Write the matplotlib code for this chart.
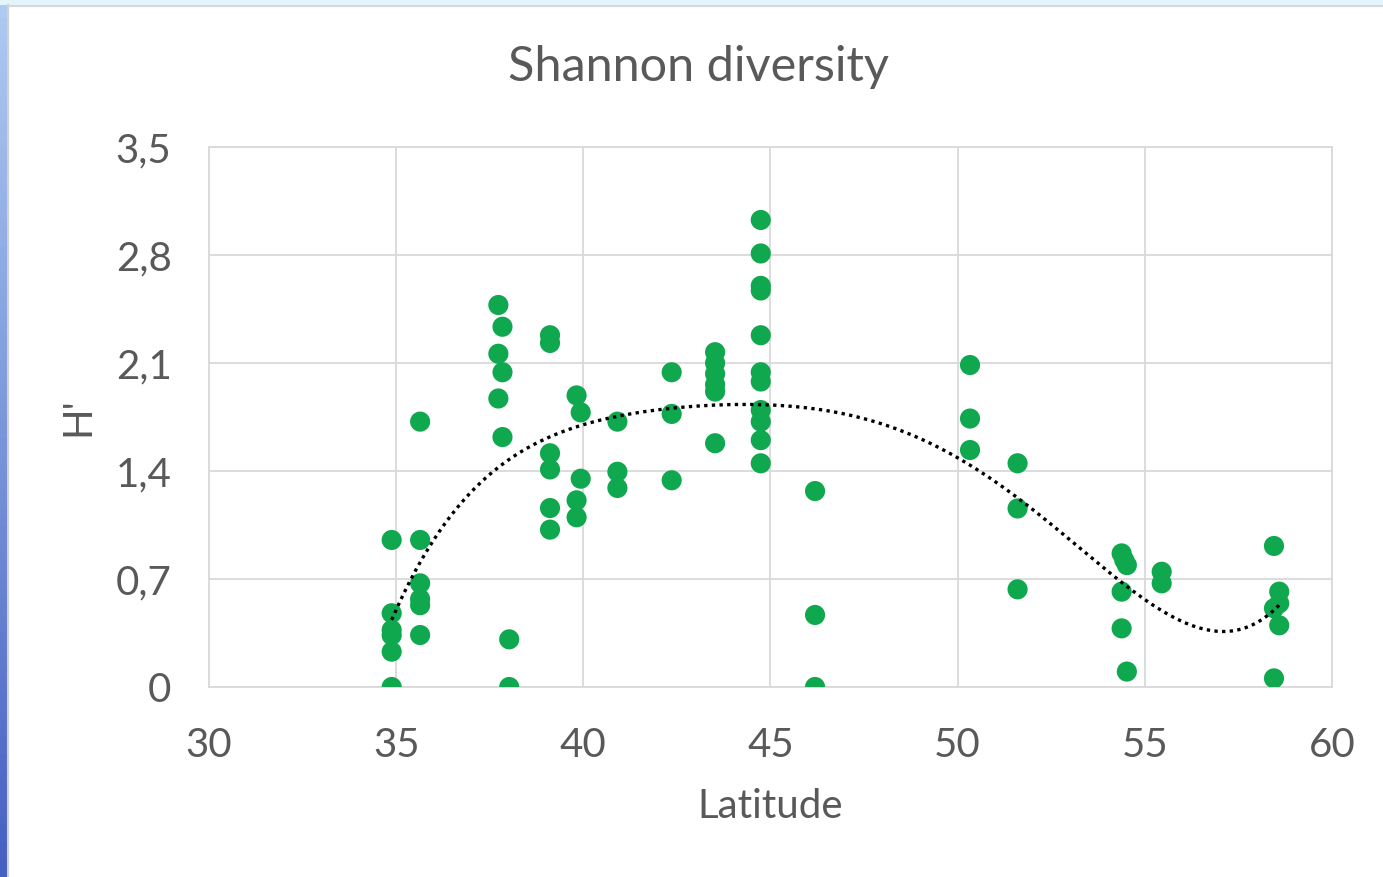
import numpy as np
import matplotlib
matplotlib.use("Agg")
from matplotlib import pyplot as plt
from matplotlib.ticker import FixedLocator, FuncFormatter

# sampled sites: latitude and Shannon diversity H'
latitude = [
    34.88, 34.88, 34.88, 34.88, 34.88, 34.88,
    35.64, 35.64, 35.64, 35.64, 35.64, 35.64,
    37.73, 37.73, 37.73,
    37.84, 37.84, 37.84,
    38.02, 38.02,
    39.11, 39.11, 39.11, 39.11, 39.11, 39.11,
    39.82, 39.82, 39.82,
    39.93, 39.93,
    40.91, 40.91, 40.91,
    42.36, 42.36, 42.36,
    43.52, 43.52, 43.52, 43.52, 43.52, 43.52,
    44.74, 44.74, 44.74, 44.74, 44.74, 44.74, 44.74, 44.74, 44.74, 44.74, 44.74,
    46.19, 46.19, 46.19,
    50.33, 50.33, 50.33,
    51.60, 51.60, 51.60,
    54.38, 54.45, 54.52, 54.38, 54.38, 54.52,
    55.45, 55.45,
    58.45, 58.45,
    58.59, 58.59, 58.45, 58.59,
]
shannon = [
    0.953, 0.478, 0.370, 0.335, 0.229, 0.0,
    0.953, 1.720, 0.672, 0.570, 0.530, 0.337,
    2.476, 2.160, 1.870,
    2.335, 2.040, 1.620,
    0.309, 0.0,
    2.280, 2.230, 1.515, 1.410, 1.160, 1.020,
    1.890, 1.210, 1.100,
    1.780, 1.350,
    1.720, 1.395, 1.290,
    2.040, 1.770, 1.340,
    2.170, 2.100, 2.030, 1.960, 1.915, 1.580,
    3.027, 2.810, 2.600, 2.570, 2.280, 2.040, 1.980, 1.795, 1.720, 1.600, 1.450,
    1.270, 0.467, 0.0,
    2.087, 1.740, 1.536,
    1.450, 1.157, 0.633,
    0.866, 0.823, 0.790, 0.618, 0.380, 0.100,
    0.747, 0.672,
    0.914, 0.056,
    0.618, 0.542, 0.510, 0.400,
]

x_ticks = [30, 35, 40, 45, 50, 55, 60]
y_ticks = [0, 0.7, 1.4, 2.1, 2.8, 3.5]
trend_order = 5

text_grey = '#595959'
grid_grey = '#d9d9d9'
font = 'Lato'

fig = plt.figure(figsize=(13.83, 8.77), dpi=100)

# blue frame strip on the left and top, like the slide it was cut from
strip = fig.add_axes([0, 0, 7 / 1383, 1])
strip.imshow(np.linspace(0, 1, 100).reshape(-1, 1), aspect='auto',
             cmap=matplotlib.colors.LinearSegmentedColormap.from_list('b', ['#aecbf2', '#4560c2']))
strip.axis('off')
top = fig.add_axes([0, 1 - 5 / 877, 1, 5 / 877])
top.set_facecolor('#e2f5fb')
top.set_xticks([])
top.set_yticks([])
for s in top.spines.values():
    s.set_visible(False)
fig.add_artist(plt.Line2D([8 / 1383, 8 / 1383], [0, 1 - 5 / 877], color='#d0d0d0', lw=1.5))
fig.add_artist(plt.Line2D([8 / 1383, 1], [1 - 6 / 877, 1 - 6 / 877], color='#d8d8d8', lw=1.5))

ax = fig.add_axes([209 / 1383, 1 - 687 / 877, 1123 / 1383, 540 / 877])

xs = np.array(latitude)
ys = np.array(shannon)
ax.scatter(xs, ys, s=210, color='#0fa84e', edgecolors='none', zorder=3)

# polynomial trend line, fitted to the points
coef = np.polyfit(xs, ys, trend_order)
xfit = np.linspace(xs.min(), xs.max(), 300)
ax.plot(xfit, np.polyval(coef, xfit), color='black', lw=2.4,
        linestyle=(0, (1, 1.3)), zorder=4)

ax.set_xlim(30, 60)
ax.set_ylim(0, 3.5)
ax.xaxis.set_major_locator(FixedLocator(x_ticks))
ax.yaxis.set_major_locator(FixedLocator(y_ticks))
ax.yaxis.set_major_formatter(FuncFormatter(lambda v, p: ('%g' % v).replace('.', ',')))
ax.grid(True, color=grid_grey, lw=1.3)
ax.set_axisbelow(True)
for s in ax.spines.values():
    s.set_color(grid_grey)
    s.set_linewidth(1.3)
ax.tick_params(length=0, labelsize=29, labelcolor=text_grey)
ax.tick_params(axis='x', pad=29)
ax.tick_params(axis='y', pad=27)
for lab in ax.get_xticklabels() + ax.get_yticklabels():
    lab.set_fontfamily(font)

ax.set_xlabel('Latitude', fontsize=29, color=text_grey, family=font, labelpad=17)
ax.set_ylabel("H'", fontsize=29, color=text_grey, family=font, labelpad=14)
fig.text(699 / 1383, 1 - 67 / 877, 'Shannon diversity', ha='center', va='center',
         fontsize=35, color=text_grey, family=font)

fig.savefig('out.png', dpi=100)
